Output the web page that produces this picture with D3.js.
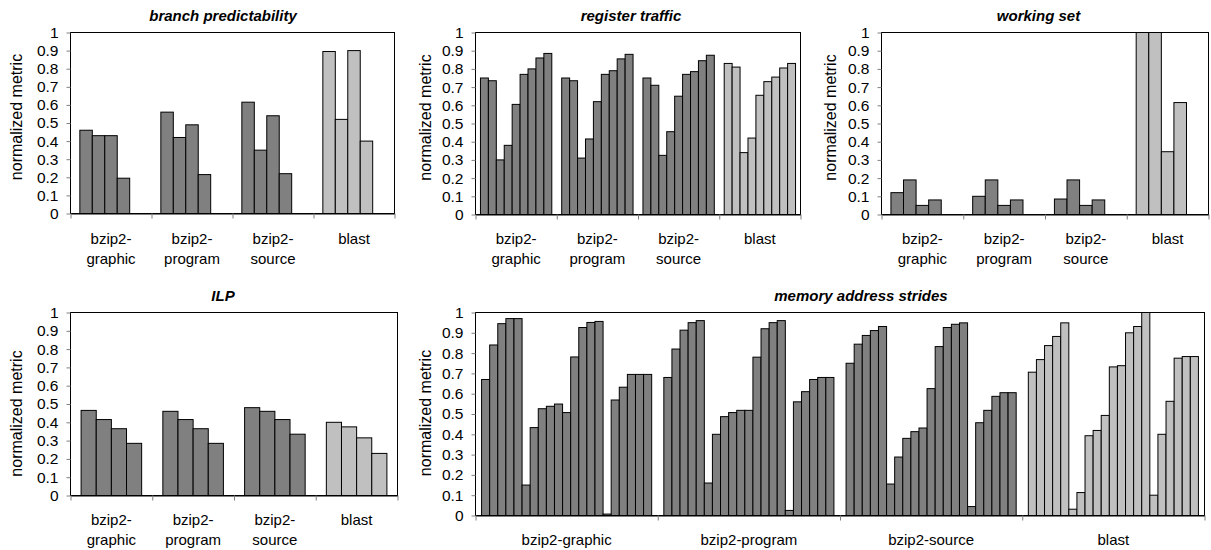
<!DOCTYPE html>
<html>
<head>
<meta charset="utf-8">
<script src="https://cdn.jsdelivr.net/npm/d3@7"></script>
<style>
  html, body { margin: 0; padding: 0; background: #fff; }
  svg { display: block; font-family: "Liberation Sans", Arial, sans-serif; }
</style>
</head>
<body>
<svg id="chart" width="1211" height="550"></svg>
<script>
// ---------- data ----------
const categories = ["bzip2-graphic", "bzip2-program", "bzip2-source", "blast"];
const yTickValues = [0, 0.1, 0.2, 0.3, 0.4, 0.5, 0.6, 0.7, 0.8, 0.9, 1];
const yTickLabels = ["0", "0.1", "0.2", "0.3", "0.4", "0.5", "0.6", "0.7", "0.8", "0.9", "1"];
const yAxisTitle = "normalized metric";

const branchPredictability = [
  [0.46, 0.43, 0.43, 0.195],
  [0.56, 0.42, 0.49, 0.215],
  [0.615, 0.35, 0.54, 0.22],
  [0.895, 0.52, 0.90, 0.40]
];
const registerTraffic = [
  [0.75, 0.735, 0.30, 0.38, 0.605, 0.77, 0.80, 0.86, 0.885],
  [0.75, 0.735, 0.31, 0.415, 0.62, 0.77, 0.79, 0.855, 0.88],
  [0.75, 0.71, 0.325, 0.455, 0.65, 0.77, 0.785, 0.845, 0.875],
  [0.83, 0.81, 0.34, 0.42, 0.655, 0.73, 0.755, 0.805, 0.83]
];
const workingSet = [
  [0.12, 0.19, 0.05, 0.08],
  [0.10, 0.19, 0.05, 0.08],
  [0.085, 0.19, 0.05, 0.08],
  [1.0, 1.0, 0.345, 0.615]
];
const ilp = [
  [0.465, 0.415, 0.365, 0.285],
  [0.46, 0.415, 0.365, 0.285],
  [0.48, 0.46, 0.415, 0.335],
  [0.40, 0.375, 0.315, 0.23]
];
const memoryStrides = [
  [0.67, 0.84, 0.945, 0.97, 0.97, 0.15, 0.433, 0.526, 0.538, 0.549, 0.507, 0.781, 0.926, 0.951, 0.956, 0.007, 0.569, 0.632, 0.695, 0.695, 0.695],
  [0.68, 0.82, 0.913, 0.95, 0.96, 0.16, 0.40, 0.487, 0.507, 0.518, 0.518, 0.78, 0.92, 0.95, 0.96, 0.025, 0.56, 0.61, 0.67, 0.68, 0.68],
  [0.75, 0.844, 0.887, 0.911, 0.931, 0.155, 0.288, 0.38, 0.413, 0.431, 0.625, 0.832, 0.926, 0.942, 0.949, 0.044, 0.457, 0.518, 0.587, 0.605, 0.605],
  [0.706, 0.768, 0.837, 0.882, 0.949, 0.031, 0.113, 0.393, 0.419, 0.493, 0.732, 0.738, 0.90, 0.931, 1.0, 0.10, 0.40, 0.5625, 0.775, 0.783, 0.783]
];

// ---------- layout ----------
const panels = [
  { title: "branch predictability", values: branchPredictability, slots: 5, gap: 1.5,
    box: { l: 70.5, t: 32.5, r: 394.5, b: 213.5 }, titleX: 223, titleY: 20.5,
    wrap: true, labelY: 244, yTitle: { x: 22, y: 117 } },
  { title: "register traffic", values: registerTraffic, slots: 9, gap: 1.25,
    box: { l: 475.5, t: 32.5, r: 800.5, b: 214.5 }, titleX: 631, titleY: 20.5,
    wrap: true, labelY: 244, yTitle: { x: 431, y: 117.5 } },
  { title: "working set", values: workingSet, slots: 5, gap: 1.5,
    box: { l: 881.5, t: 32.5, r: 1208.5, b: 214.5 }, titleX: 1038.5, titleY: 20.5,
    wrap: true, labelY: 244, yTitle: { x: 836, y: 117.5 } },
  { title: "ILP", values: ilp, slots: 4, gap: 1.4,
    box: { l: 70.5, t: 312.5, r: 397.5, b: 495.5 }, titleX: 223, titleY: 300.5,
    wrap: true, labelY: 525, yTitle: { x: 22, y: 413.5 } },
  { title: "memory address strides", values: memoryStrides, slots: 21, gap: 1.5,
    box: { l: 475.5, t: 312.5, r: 1204.5, b: 515.5 }, titleX: 861, titleY: 300.5,
    wrap: false, labelY: 545, yTitle: { x: 431, y: 413 } }
];

const darkFill = "#808080";
const lightFill = "#c0c0c0";
const svg = d3.select("#chart");

panels.forEach(p => {
  const g = svg.append("g");
  const { l, t, r, b } = p.box;
  const y = d3.scaleLinear().domain([0, 1]).range([b, t]);
  const xBand = d3.scaleBand().domain(categories).range([l, r]).padding(0);
  const xEdge = d3.scaleLinear().domain([0, categories.length]).range([l, r]);
  const slotW = xBand.bandwidth() / (p.slots + p.gap);

  // bars
  categories.forEach((cat, ci) => {
    g.append("g").selectAll("rect")
      .data(p.values[ci])
      .join("rect")
      .attr("x", (d, i) => xBand(cat) + p.gap * slotW / 2 + i * slotW)
      .attr("y", d => y(d))
      .attr("width", slotW)
      .attr("height", d => y(0) - y(d))
      .attr("fill", cat === "blast" ? lightFill : darkFill)
      .attr("stroke", "#000")
      .attr("stroke-width", 1);
  });

  // plot border
  g.append("rect")
    .attr("x", l).attr("y", t).attr("width", r - l).attr("height", b - t)
    .attr("fill", "none").attr("stroke", "#000").attr("stroke-width", 1);

  // y axis
  const yAxis = d3.axisLeft(y)
    .tickValues(yTickValues)
    .tickFormat((d, i) => yTickLabels[i])
    .tickSize(4).tickSizeOuter(0).tickPadding(8);
  const ya = g.append("g").attr("transform", `translate(${l},0)`).call(yAxis);
  ya.select(".domain").remove();
  ya.selectAll(".tick line").attr("stroke", "#808080");
  ya.selectAll(".tick text").attr("font-size", 15.5).attr("fill", "#000")
    .attr("font-family", "Liberation Sans, Arial, sans-serif");

  // x axis (category separators)
  const xAxis = d3.axisBottom(xEdge)
    .tickValues(d3.range(categories.length + 1))
    .tickFormat("").tickSize(5).tickSizeOuter(0);
  const xa = g.append("g").attr("transform", `translate(0,${b})`).call(xAxis);
  xa.select(".domain").attr("stroke", "#000");
  xa.selectAll(".tick line").attr("stroke", "#808080");

  // category labels
  categories.forEach(cat => {
    const cx = xBand(cat) + xBand.bandwidth() / 2;
    const lines = p.wrap && cat.includes("-")
      ? [cat.slice(0, cat.indexOf("-") + 1), cat.slice(cat.indexOf("-") + 1)]
      : [cat];
    const txt = g.append("text")
      .attr("x", cx).attr("y", p.labelY)
      .attr("text-anchor", "middle")
      .attr("font-size", 15).attr("fill", "#000");
    lines.forEach((ln, i) => {
      txt.append("tspan").attr("x", cx).attr("dy", i === 0 ? 0 : 20).text(ln);
    });
  });

  // title
  g.append("text")
    .attr("x", p.titleX).attr("y", p.titleY)
    .attr("text-anchor", "middle")
    .attr("font-size", 15).attr("font-weight", "bold").attr("font-style", "italic")
    .attr("fill", "#000")
    .text(p.title);

  // y axis title
  g.append("text")
    .attr("transform", `translate(${p.yTitle.x},${p.yTitle.y}) rotate(-90)`)
    .attr("text-anchor", "middle")
    .attr("font-size", 16).attr("fill", "#000")
    .text(yAxisTitle);
});
</script>
</body>
</html>
